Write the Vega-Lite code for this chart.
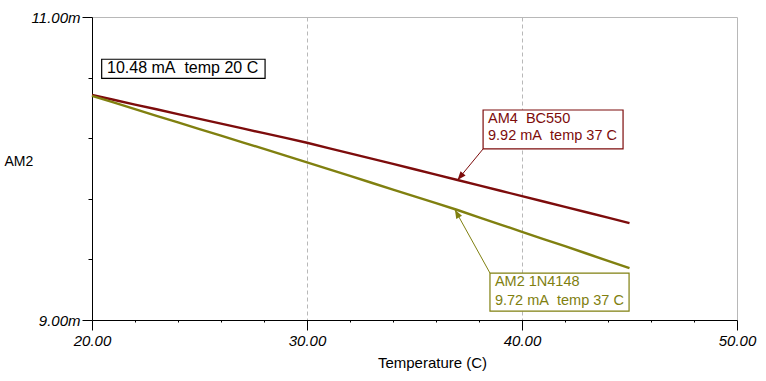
{
  "$schema": "https://vega.github.io/schema/vega-lite/v6.json",
  "width": 645,
  "height": 303,
  "autosize": {"type": "none"},
  "padding": {"left": 92, "top": 17, "right": 29, "bottom": 61},
  "background": "white",
  "config": {"view": {"stroke": null}, "font": "Liberation Sans"},
  "datasets": {
    "curves": [
      {"t": 20, "i": 10.485, "s": "BC550"}, {"t": 21, "i": 10.454, "s": "BC550"}, {"t": 22, "i": 10.422, "s": "BC550"}, {"t": 23, "i": 10.391, "s": "BC550"}, {"t": 24, "i": 10.359, "s": "BC550"}, {"t": 25, "i": 10.328, "s": "BC550"}, {"t": 26, "i": 10.296, "s": "BC550"}, {"t": 27, "i": 10.265, "s": "BC550"}, {"t": 28, "i": 10.233, "s": "BC550"}, {"t": 29, "i": 10.202, "s": "BC550"}, {"t": 30, "i": 10.170, "s": "BC550"}, {"t": 31, "i": 10.135, "s": "BC550"}, {"t": 32, "i": 10.100, "s": "BC550"}, {"t": 33, "i": 10.065, "s": "BC550"}, {"t": 34, "i": 10.030, "s": "BC550"}, {"t": 35, "i": 9.995, "s": "BC550"}, {"t": 36, "i": 9.960, "s": "BC550"}, {"t": 37, "i": 9.924, "s": "BC550"}, {"t": 38, "i": 9.889, "s": "BC550"}, {"t": 39, "i": 9.853, "s": "BC550"}, {"t": 40, "i": 9.818, "s": "BC550"}, {"t": 41, "i": 9.782, "s": "BC550"}, {"t": 42, "i": 9.747, "s": "BC550"}, {"t": 43, "i": 9.711, "s": "BC550"}, {"t": 44, "i": 9.676, "s": "BC550"}, {"t": 45, "i": 9.640, "s": "BC550"},
      {"t": 20, "i": 10.480, "s": "1N4148"}, {"t": 21, "i": 10.436, "s": "1N4148"}, {"t": 22, "i": 10.392, "s": "1N4148"}, {"t": 23, "i": 10.348, "s": "1N4148"}, {"t": 24, "i": 10.304, "s": "1N4148"}, {"t": 25, "i": 10.260, "s": "1N4148"}, {"t": 26, "i": 10.217, "s": "1N4148"}, {"t": 27, "i": 10.173, "s": "1N4148"}, {"t": 28, "i": 10.129, "s": "1N4148"}, {"t": 29, "i": 10.085, "s": "1N4148"}, {"t": 30, "i": 10.041, "s": "1N4148"}, {"t": 31, "i": 9.996, "s": "1N4148"}, {"t": 32, "i": 9.951, "s": "1N4148"}, {"t": 33, "i": 9.906, "s": "1N4148"}, {"t": 34, "i": 9.861, "s": "1N4148"}, {"t": 35, "i": 9.816, "s": "1N4148"}, {"t": 36, "i": 9.771, "s": "1N4148"}, {"t": 37, "i": 9.726, "s": "1N4148"}, {"t": 38, "i": 9.678, "s": "1N4148"}, {"t": 39, "i": 9.630, "s": "1N4148"}, {"t": 40, "i": 9.582, "s": "1N4148"}, {"t": 41, "i": 9.534, "s": "1N4148"}, {"t": 42, "i": 9.487, "s": "1N4148"}, {"t": 43, "i": 9.439, "s": "1N4148"}, {"t": 44, "i": 9.391, "s": "1N4148"}, {"t": 45, "i": 9.343, "s": "1N4148"}
    ],
    "boxes": [
      {"t": 20.45, "t2": 28.05, "i": 10.721, "i2": 10.595, "s": "ref"},
      {"t": 38.19, "t2": 44.70, "i": 10.386, "i2": 10.129, "s": "BC550"},
      {"t": 38.51, "t2": 44.98, "i": 9.310, "i2": 9.059, "s": "1N4148"}
    ],
    "labels": [
      {"t": 20.70, "i": 10.663, "s": "ref", "txt": "10.48 mA\u00a0 temp 20 C", "big": "yes"},
      {"t": 38.42, "i": 10.330, "s": "BC550", "txt": "AM4\u00a0 BC550", "big": "no"},
      {"t": 38.42, "i": 10.212, "s": "BC550", "txt": "9.92 mA\u00a0 temp 37 C", "big": "no"},
      {"t": 38.74, "i": 9.254, "s": "1N4148", "txt": "AM2 1N4148", "big": "no"},
      {"t": 38.74, "i": 9.128, "s": "1N4148", "txt": "9.72 mA\u00a0 temp 37 C", "big": "no"}
    ],
    "arrows": [
      {"t": 38.19, "i": 10.129, "t2": 37.0, "i2": 9.924, "s": "BC550"},
      {"t": 38.51, "i": 9.310, "t2": 36.88, "i2": 9.728, "s": "1N4148"}
    ]
  },
  "layer": [
    {
      "data": {"name": "curves"},
      "mark": {"type": "line", "strokeWidth": 2.4, "interpolate": "linear"},
      "encoding": {
        "x": {
          "field": "t", "type": "quantitative",
          "scale": {"domain": [20, 50], "nice": false, "zero": false},
          "axis": {
            "title": "Temperature (C)",
            "titleFont": "Liberation Sans", "titleFontSize": 15, "titleFontWeight": "normal", "titleColor": "black",
            "titleX": 340, "titleY": 42, "titleBaseline": "middle", "titleAnchor": null, "titleAlign": "center",
            "values": [20,21,22,23,24,25,26,27,28,29,30,31,32,33,34,35,36,37,38,39,40,41,42,43,44,45,46,47,48,49,50],
            "labelExpr": "datum.value % 10 == 0 ? format(datum.value, '.2f') : ''",
            "labelFont": "Liberation Sans", "labelFontSize": 15, "labelFontStyle": "italic", "labelColor": "black",
            "labelAlign": "center", "labelDx": 10, "labelPadding": 3, "labelFlush": false, "labelOverlap": false, "labelBound": false,
            "domainColor": "black", "domainWidth": 1,
            "tickColor": "black", "tickWidth": 1,
            "tickSize": {"condition": [{"test": "datum.value % 10 == 0", "value": 10}, {"test": "datum.value % 5 == 0", "value": 4}], "value": 2},
            "grid": true, "gridColor": "#b8b8b8", "gridWidth": 1,
            "gridOpacity": {"condition": {"test": "datum.value == 30 || datum.value == 40 || datum.value == 50", "value": 1}, "value": 0},
            "gridDash": {"condition": {"test": "datum.value == 50", "value": []}, "value": [4, 3]}
          }
        },
        "y": {
          "field": "i", "type": "quantitative",
          "scale": {"domain": [9, 11], "nice": false, "zero": false},
          "axis": {
            "title": "AM2",
            "titleFont": "Liberation Sans", "titleFontSize": 14, "titleFontWeight": "normal", "titleColor": "black",
            "titleAngle": 0, "titleX": -88, "titleY": 144, "titleAlign": "left", "titleBaseline": "middle", "titleAnchor": null,
            "values": [9, 9.2, 9.4, 9.6, 9.8, 10, 10.2, 10.4, 10.6, 10.8, 11],
            "labelExpr": "datum.value == 9 || datum.value == 11 ? format(datum.value, '.2f') + 'm' : ''",
            "labelFont": "Liberation Sans", "labelFontSize": 15, "labelFontStyle": "italic", "labelColor": "black",
            "labelPadding": 2, "labelOverlap": false, "labelBound": false, "labelFlush": false, "labelBaseline": "middle",
            "domainColor": "black", "domainWidth": 1,
            "tickColor": "black", "tickWidth": 1,
            "tickSize": {"condition": {"test": "datum.value == 9 || datum.value == 11", "value": 10}, "value": 4},
            "grid": true, "gridColor": "#b8b8b8", "gridWidth": 1,
            "gridOpacity": {"condition": {"test": "datum.value == 11", "value": 1}, "value": 0}
          }
        },
        "color": {
          "field": "s", "type": "nominal", "legend": null,
          "scale": {"domain": ["ref", "BC550", "1N4148"], "range": ["black", "#7d0c0c", "#808010"]}
        },
        "detail": {"field": "s"}
      }
    },
    {
      "data": {"name": "arrows"},
      "mark": {"type": "rule", "strokeWidth": 1},
      "encoding": {
        "x": {"field": "t", "type": "quantitative"},
        "y": {"field": "i", "type": "quantitative"},
        "x2": {"field": "t2"},
        "y2": {"field": "i2"},
        "color": {"field": "s", "type": "nominal", "legend": null}
      }
    },
    {
      "data": {"name": "arrows"},
      "transform": [{"filter": "datum.s == 'BC550'"}],
      "mark": {"type": "point", "shape": "M0,0L-0.38,1L0.38,1Z", "filled": true, "size": 300, "angle": 220, "opacity": 1, "strokeWidth": 0},
      "encoding": {
        "x": {"field": "t2", "type": "quantitative"},
        "y": {"field": "i2", "type": "quantitative"},
        "color": {"field": "s", "type": "nominal", "legend": null}
      }
    },
    {
      "data": {"name": "arrows"},
      "transform": [{"filter": "datum.s == '1N4148'"}],
      "mark": {"type": "point", "shape": "M0,0L-0.38,1L0.38,1Z", "filled": true, "size": 300, "angle": 331, "opacity": 1, "strokeWidth": 0},
      "encoding": {
        "x": {"field": "t2", "type": "quantitative"},
        "y": {"field": "i2", "type": "quantitative"},
        "color": {"field": "s", "type": "nominal", "legend": null}
      }
    },
    {
      "data": {"name": "boxes"},
      "mark": {"type": "rect", "fill": "white", "strokeWidth": 1.2},
      "encoding": {
        "x": {"field": "t", "type": "quantitative"},
        "x2": {"field": "t2"},
        "y": {"field": "i", "type": "quantitative"},
        "y2": {"field": "i2"},
        "stroke": {
          "field": "s", "type": "nominal", "legend": null,
          "scale": {"domain": ["ref", "BC550", "1N4148"], "range": ["black", "#7d0c0c", "#808010"]}
        }
      }
    },
    {
      "data": {"name": "labels"},
      "transform": [{"filter": "datum.big == 'yes'"}],
      "mark": {"type": "text", "align": "left", "baseline": "middle", "font": "Liberation Sans", "fontSize": 16},
      "encoding": {
        "x": {"field": "t", "type": "quantitative"},
        "y": {"field": "i", "type": "quantitative"},
        "text": {"field": "txt"},
        "color": {"field": "s", "type": "nominal", "legend": null}
      }
    },
    {
      "data": {"name": "labels"},
      "transform": [{"filter": "datum.big == 'no'"}],
      "mark": {"type": "text", "align": "left", "baseline": "middle", "font": "Liberation Sans", "fontSize": 14.5},
      "encoding": {
        "x": {"field": "t", "type": "quantitative"},
        "y": {"field": "i", "type": "quantitative"},
        "text": {"field": "txt"},
        "color": {"field": "s", "type": "nominal", "legend": null}
      }
    }
  ]
}
